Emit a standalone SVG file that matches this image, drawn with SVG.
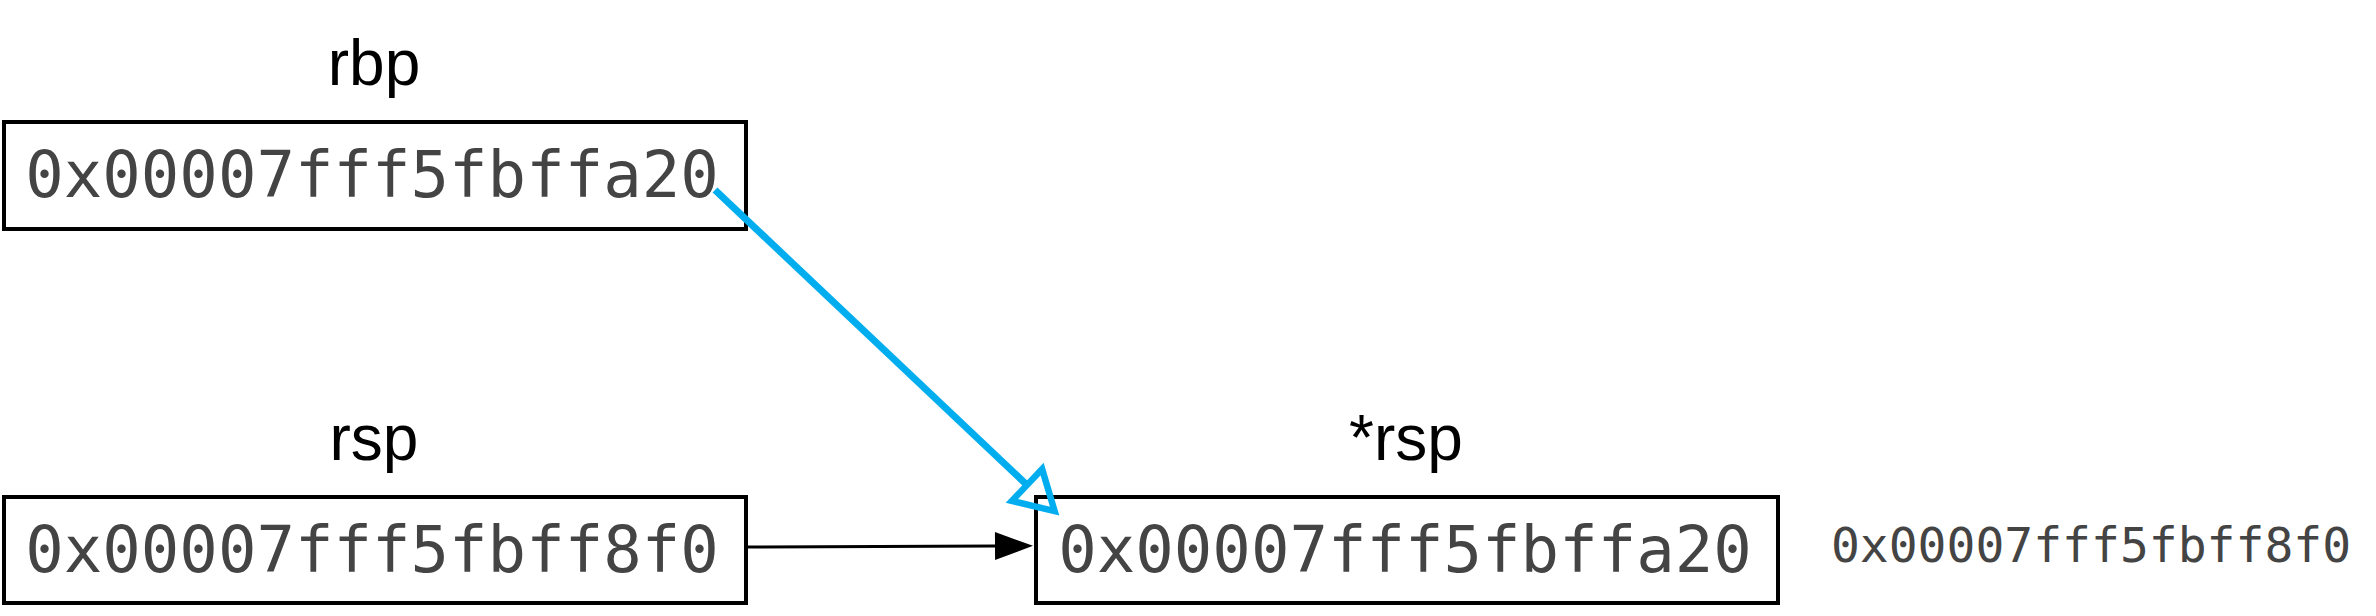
<svg xmlns="http://www.w3.org/2000/svg" width="2376" height="616" viewBox="0 0 2376 616">
  <style>
    .box { fill: #ffffff; stroke: #000000; stroke-width: 4; }
    .val { font-family: "DejaVu Sans Mono", "Liberation Mono", monospace; font-size: 64px; fill: #444444; text-anchor: middle; }
    .side { font-family: "DejaVu Sans Mono", "Liberation Mono", monospace; font-size: 48px; fill: #444444; text-anchor: middle; }
    .lbl { font-family: "Liberation Sans", Arial, sans-serif; font-size: 64px; fill: #000000; text-anchor: middle; }
    .blk { stroke: #000000; stroke-width: 3; fill: none; }
    .blu { stroke: #00ADEF; stroke-width: 7; fill: none; }
  </style>
  <defs>
    <marker id="arrowBlack" markerUnits="userSpaceOnUse" markerWidth="40" markerHeight="30" viewBox="0 -15 40 30" refX="0" refY="0" orient="auto" overflow="visible">
      <path d="M0,-14 L38,0 L0,14 Z" fill="#000000"/>
    </marker>
    <marker id="arrowBlue" markerUnits="userSpaceOnUse" markerWidth="50" markerHeight="56" viewBox="0 -28 50 56" refX="0" refY="0" orient="auto" overflow="visible">
      <path d="M0,-22 L38,0 L0,22 Z" fill="none" stroke="#00ADEF" stroke-width="6.5" stroke-linejoin="miter"/>
    </marker>
  </defs>
  <rect width="2376" height="616" fill="#ffffff"/>

  <g id="node-rbp">
    <text class="lbl" x="374" y="85">rbp</text>
    <rect class="box" x="4" y="122" width="742" height="107"/>
    <text class="val" x="372" y="197">0x00007fff5fbffa20</text>
  </g>

  <g id="node-rsp">
    <text class="lbl" x="374" y="460">rsp</text>
    <rect class="box" x="4" y="497" width="742" height="106"/>
    <text class="val" x="372" y="572">0x00007fff5fbff8f0</text>
  </g>

  <g id="node-star-rsp">
    <text class="lbl" x="1406" y="460">*rsp</text>
    <rect class="box" x="1036" y="497" width="742" height="106"/>
    <text class="val" x="1405" y="572">0x00007fff5fbffa20</text>
  </g>

  <g id="node-address">
    <text class="side" x="2091" y="562">0x00007fff5fbff8f0</text>
  </g>

  <g id="connectors">
    <line class="blk" x1="748" y1="547" x2="995" y2="546" marker-end="url(#arrowBlack)"/>
    <line class="blu" x1="715" y1="190" x2="1027" y2="485" marker-end="url(#arrowBlue)"/>
  </g>
</svg>
